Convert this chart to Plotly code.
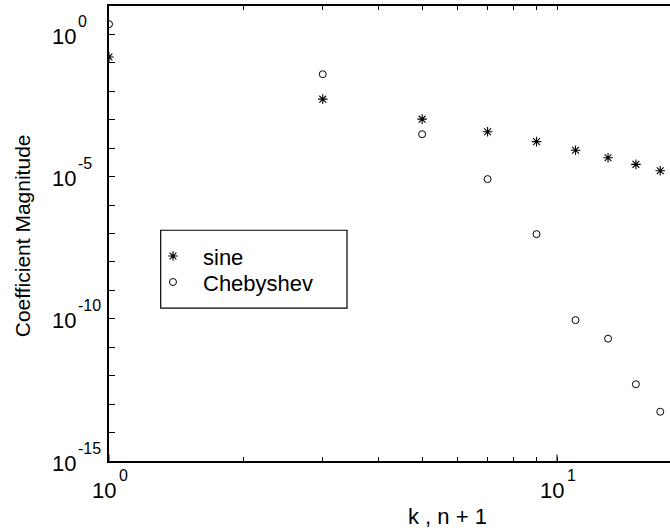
import plotly.graph_objects as go

# data
k = [1, 3, 5, 7, 9, 11, 13, 15, 17]
sine_coef = [0.16, 5.3e-3, 1.05e-3, 3.8e-4, 1.7e-4, 8.5e-5, 4.6e-5, 2.7e-5, 1.6e-5]
cheb_coef = [2.3, 0.04, 3.1e-4, 8.2e-6, 9.5e-8, 9e-11, 2e-11, 5e-13, 5.4e-14]

y_tick_exps = list(range(-15, 2))          # a tick at every decade
y_label_exps = [0, -5, -10, -15]           # labelled decades
x_tick_vals = [1, 2, 3, 4, 5, 6, 7, 8, 9, 10, 20, 30]
x_label_exps = [0, 1]

FONT = "Liberation Sans, Arial, sans-serif"
FS = 22
FS_EXP = 16

fig = go.Figure()
fig.add_trace(go.Scatter(
    x=k, y=sine_coef, mode="markers", name="sine", legend="legend",
    marker=dict(symbol="asterisk-open", size=8, color="black",
                line=dict(color="black", width=1.1)),
))
fig.add_trace(go.Scatter(
    x=k, y=cheb_coef, mode="markers", name="Chebyshev", legend="legend2",
    marker=dict(symbol="circle-open", size=7, color="black",
                line=dict(color="black", width=1)),
))

W, H = 670, 531
L, T, B = 109, 5.5, 70
PW = W - L
PH = H - B - T
xr_right = PW / 448.0


def py(ypix):
    return (H - B - ypix) / PH


def px(xpix):
    return (xpix - L) / PW


leg_common = dict(xanchor="left", yanchor="top", bgcolor="rgba(0,0,0,0)",
                  borderwidth=0, itemwidth=50,
                  font=dict(family=FONT, size=FS, color="black"))

fig.update_layout(
    width=W, height=H,
    margin=dict(l=L, r=0, t=T, b=B, pad=0),
    paper_bgcolor="white", plot_bgcolor="white",
    font=dict(family=FONT, size=FS, color="black"),
    showlegend=True,
    legend=dict(x=px(143), y=py(235), **leg_common),
    legend2=dict(x=px(143), y=py(261), **leg_common),
    xaxis=dict(type="log", range=[0, xr_right],
               showgrid=False, zeroline=False,
               showline=True, linecolor="black", linewidth=1.5, mirror="ticks",
               ticks="inside", ticklen=4, tickwidth=1, tickcolor="black",
               tickmode="array", tickvals=x_tick_vals, showticklabels=False),
    yaxis=dict(type="log", range=[-15, 1],
               showgrid=False, zeroline=False,
               showline=True, linecolor="black", linewidth=1.5, mirror=False,
               ticks="inside", ticklen=6, tickwidth=1, tickcolor="black",
               tickmode="array", tickvals=[10.0 ** e for e in y_tick_exps],
               showticklabels=False),
)

# y tick labels: "10" with raised exponent
for e in y_label_exps:
    fig.add_annotation(text="10", xref="paper", yref="y", x=px(50), y=e,
                       xanchor="left", yanchor="middle", yshift=-2,
                       showarrow=False,
                       font=dict(family=FONT, size=FS, color="black"))
    fig.add_annotation(text=str(e), xref="paper", yref="y", x=px(76), y=e,
                       xanchor="left", yanchor="middle", yshift=13,
                       showarrow=False,
                       font=dict(family=FONT, size=FS_EXP, color="black"))

# x tick labels
for e in x_label_exps:
    fig.add_annotation(text="10", xref="x", yref="paper", x=e, y=0,
                       xanchor="center", yanchor="middle",
                       xshift=-5, yshift=-(490 - (H - B)),
                       showarrow=False,
                       font=dict(family=FONT, size=FS, color="black"))
    fig.add_annotation(text=str(e), xref="x", yref="paper", x=e, y=0,
                       xanchor="left", yanchor="middle",
                       xshift=8, yshift=-(475 - (H - B)),
                       showarrow=False,
                       font=dict(family=FONT, size=FS_EXP, color="black"))

# legend box
fig.add_shape(type="rect", xref="paper", yref="paper",
              x0=px(160.7), x1=px(347), y0=py(308), y1=py(230),
              line=dict(color="black", width=1.2), fillcolor="rgba(0,0,0,0)")

# axis titles
fig.add_annotation(text="Coefficient Magnitude", xref="paper", yref="paper",
                   x=px(22), y=py(236),
                   textangle=-90, showarrow=False,
                   xanchor="center", yanchor="middle",
                   font=dict(family=FONT, size=FS - 1, color="black"))
fig.add_annotation(text="k , n + 1", xref="paper", yref="paper",
                   x=px(447), y=py(517),
                   showarrow=False, xanchor="center", yanchor="middle",
                   font=dict(family=FONT, size=FS, color="black"))

# major x ticks longer
for e in x_label_exps:
    fig.add_shape(type="line", xref="x", yref="paper",
                  x0=10 ** e, x1=10 ** e, y0=0, y1=6.5 / PH,
                  line=dict(color="black", width=1))

fig.write_html("out.html")
